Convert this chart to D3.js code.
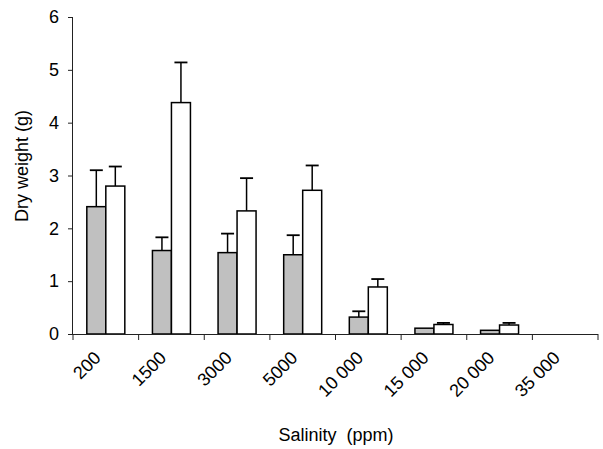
<!DOCTYPE html>
<html>
<head>
<meta charset="utf-8">
<script src="https://cdn.jsdelivr.net/npm/d3@7"></script>
<style>
  html, body { margin: 0; padding: 0; background: #fff; }
  svg { display: block; font-family: "Liberation Sans", Arial, sans-serif; }
</style>
</head>
<body>
<svg id="chart" width="603" height="449"></svg>
<script>
// Salinity treatments (ppm)
const categories = ["200", "1500", "3000", "5000", "10 000", "15 000", "20 000", "35 000"];
// Mean dry weight (g) of the two groups; null where nothing was measured
const grayMean  = [2.41, 1.58, 1.54, 1.50, 0.32, 0.11, 0.07, null];
const grayErr   = [0.69, 0.25, 0.36, 0.37, 0.11, 0.00, 0.00, null];
const whiteMean = [2.80, 4.38, 2.33, 2.72, 0.89, 0.18, 0.17, null];
const whiteErr  = [0.37, 0.76, 0.62, 0.47, 0.15, 0.03, 0.04, null];
const yTicks = [0, 1, 2, 3, 4, 5, 6];

const svg = d3.select("#chart");
const plotLeft = 73, plotRight = 598, plotTop = 17, plotBottom = 334;

const x = d3.scaleBand().domain(categories).range([plotLeft, plotRight]).padding(0);
const y = d3.scaleLinear().domain([0, 6]).range([plotBottom, plotTop]);

const barW = 19;
const series = [
  { mean: grayMean,  err: grayErr,  fill: "#c0c0c0", off: -barW },
  { mean: whiteMean, err: whiteErr, fill: "#ffffff", off: 0 }
];

// Error bars (upper whisker only), drawn beneath the bars
series.forEach(s => {
  const g = svg.append("g");
  categories.forEach((c, i) => {
    if (s.mean[i] == null || !s.err[i]) return;
    const cx = x(c) + x.bandwidth() / 2 + s.off + barW / 2;
    const y0 = y(s.mean[i]), y1 = y(s.mean[i] + s.err[i]);
    g.append("line").attr("x1", cx).attr("x2", cx).attr("y1", y0).attr("y2", y1)
      .attr("stroke", "#000").attr("stroke-width", 1.5);
    g.append("line").attr("x1", cx - 6.5).attr("x2", cx + 6.5).attr("y1", y1).attr("y2", y1)
      .attr("stroke", "#000").attr("stroke-width", 1.8);
  });
});

// Bars
series.forEach(s => {
  svg.append("g").selectAll("rect")
    .data(categories.map((c, i) => ({ c, v: s.mean[i] })).filter(d => d.v != null))
    .join("rect")
    .attr("x", d => x(d.c) + x.bandwidth() / 2 + s.off)
    .attr("width", barW)
    .attr("y", d => y(d.v))
    .attr("height", d => y(0) - y(d.v))
    .attr("fill", s.fill)
    .attr("stroke", "#000")
    .attr("stroke-width", 1.5);
});

// Y axis
const yAxis = svg.append("g").attr("transform", `translate(${plotLeft},0)`)
  .call(d3.axisLeft(y).tickValues(yTicks).tickFormat(d3.format("d")).tickSize(5).tickPadding(9));
yAxis.select(".domain").attr("stroke", "#222").attr("d", `M-0.5,${plotTop}V${plotBottom}`);
yAxis.selectAll(".tick line").attr("stroke", "#222");
yAxis.selectAll("text").attr("font-size", 18).attr("fill", "#000")
  .attr("font-family", "Liberation Sans, Arial, sans-serif");

// X axis: tick marks sit on the category boundaries
const xAxisG = svg.append("g").attr("transform", `translate(0,${plotBottom})`);
xAxisG.append("line").attr("x1", plotLeft - 5).attr("x2", plotRight).attr("y1", 0.5).attr("y2", 0.5)
  .attr("stroke", "#222");
const bounds = categories.map(c => x(c)).concat([plotRight]);
xAxisG.selectAll("line.tk").data(bounds).join("line").attr("class", "tk")
  .attr("x1", d => d).attr("x2", d => d).attr("y1", 0).attr("y2", 6).attr("stroke", "#222");
xAxisG.selectAll("text").data(categories).join("text")
  .attr("transform", d => `translate(${x(d) + x.bandwidth() / 2 - 4},${25}) rotate(-45)`)
  .attr("text-anchor", "end")
  .attr("font-size", 18)
  .attr("fill", "#000")
  .text(d => d);

// Axis titles
svg.append("text")
  .attr("x", 336).attr("y", 441)
  .attr("text-anchor", "middle").attr("font-size", 18).attr("fill", "#000")
  .attr("xml:space", "preserve")
  .text("Salinity  (ppm)");
svg.append("text")
  .attr("transform", "translate(28,166) rotate(-90)")
  .attr("text-anchor", "middle").attr("font-size", 18).attr("fill", "#000")
  .text("Dry weight (g)");
</script>
</body>
</html>
